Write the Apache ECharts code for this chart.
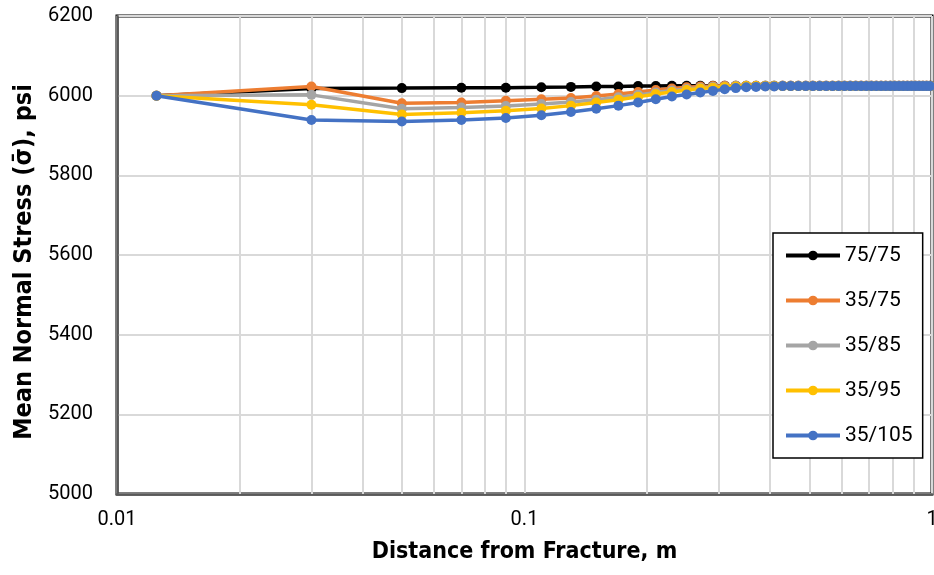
<!DOCTYPE html>
<html>
<head>
<meta charset="utf-8">
<title>Mean Normal Stress vs Distance from Fracture</title>
<script src="https://cdn.jsdelivr.net/npm/echarts@6/dist/echarts.min.js"></script>
<style>
  html, body { margin: 0; padding: 0; background: #ffffff; }
  #chart { width: 934px; height: 575px; }
</style>
</head>
<body>
<div id="chart"></div>
<script>
// Distance from the fracture face, m
const distance = [
  0.0125, 0.03, 0.05, 0.07, 0.09, 0.11, 0.13, 0.15, 0.17, 0.19,
  0.21, 0.23, 0.25, 0.27, 0.29, 0.31, 0.33, 0.35, 0.37, 0.39,
  0.41, 0.43, 0.45, 0.47, 0.49, 0.51, 0.53, 0.55, 0.57, 0.59,
  0.61, 0.63, 0.65, 0.67, 0.69, 0.71, 0.73, 0.75, 0.77, 0.79,
  0.81, 0.83, 0.85, 0.87, 0.89, 0.91, 0.93, 0.95, 0.97, 0.99
];

// Mean normal stress, psi, for each case
const stress75_75 = [
  6000, 6018, 6019, 6020, 6020, 6021, 6022, 6023, 6023, 6024,
  6024, 6025, 6025, 6025, 6025, 6025, 6025, 6025, 6025, 6025,
  6025, 6025, 6025, 6025, 6025, 6025, 6025, 6025, 6025, 6025,
  6025, 6025, 6025, 6025, 6025, 6025, 6025, 6025, 6025, 6025,
  6025, 6025, 6025, 6025, 6025, 6025, 6025, 6025, 6025, 6025
];
const stress35_75 = [
  6000, 6023, 5981, 5983, 5987, 5991, 5994, 5999, 6004, 6009,
  6014, 6018, 6021, 6023, 6024, 6025, 6025, 6025, 6025, 6025,
  6025, 6025, 6025, 6025, 6025, 6025, 6025, 6025, 6025, 6025,
  6025, 6025, 6025, 6025, 6025, 6025, 6025, 6025, 6025, 6025,
  6025, 6025, 6025, 6025, 6025, 6025, 6025, 6025, 6025, 6025
];
const stress35_85 = [
  6000, 6002, 5967, 5970, 5974, 5979, 5984, 5990, 5996, 6002,
  6008, 6013, 6017, 6020, 6022, 6023, 6024, 6024, 6024, 6024,
  6024, 6024, 6024, 6024, 6024, 6024, 6024, 6024, 6024, 6024,
  6024, 6024, 6024, 6024, 6024, 6024, 6024, 6024, 6024, 6024,
  6024, 6024, 6024, 6024, 6024, 6024, 6024, 6024, 6024, 6024
];
const stress35_95 = [
  6000, 5977, 5953, 5957, 5962, 5968, 5975, 5983, 5990, 5997,
  6004, 6009, 6014, 6018, 6020, 6022, 6023, 6024, 6024, 6024,
  6024, 6024, 6024, 6024, 6024, 6024, 6024, 6024, 6024, 6024,
  6024, 6024, 6024, 6024, 6024, 6024, 6024, 6024, 6024, 6024,
  6024, 6024, 6024, 6024, 6024, 6024, 6024, 6024, 6024, 6024
];
const stress35_105 = [
  6000, 5939, 5935, 5939, 5944, 5951, 5959, 5967, 5975, 5983,
  5991, 5998, 6003, 6008, 6012, 6016, 6019, 6021, 6022, 6023,
  6023, 6024, 6024, 6024, 6024, 6024, 6024, 6024, 6024, 6024,
  6024, 6024, 6024, 6024, 6024, 6024, 6024, 6024, 6024, 6024,
  6024, 6024, 6024, 6024, 6024, 6024, 6024, 6024, 6024, 6024
];

const caseNames = ['75/75', '35/75', '35/85', '35/95', '35/105'];
const caseColors = ['#000000', '#ED7D31', '#A5A5A5', '#FFC000', '#4472C4'];
const caseValues = [stress75_75, stress35_75, stress35_85, stress35_95, stress35_105];

// Minor log-scale grid lines between the decades
const minorGridX = [0.02, 0.03, 0.04, 0.05, 0.06, 0.07, 0.08, 0.09,
                    0.2, 0.3, 0.4, 0.5, 0.6, 0.7, 0.8, 0.9];

const yTicks = { min: 5000, max: 6200, step: 200 };

const labelFont = 'Roboto, "Liberation Sans", sans-serif';
const titleFont = '"Liberation Sans Narrow", "DejaVu Sans Condensed", Roboto, sans-serif';
const gridColor = '#d9d9d9';

const chart = echarts.init(document.getElementById('chart'), null, { renderer: 'canvas' });

const lineSeries = caseNames.map((name, i) => ({
  name: name,
  type: 'line',
  data: distance.map((d, j) => [d, caseValues[i][j]]),
  symbol: 'circle',
  symbolSize: 10,
  showSymbol: true,
  lineStyle: { color: caseColors[i], width: 3.5 },
  itemStyle: { color: caseColors[i] },
  z: 3 + i,
  animation: false,
  clip: true
}));

const gridSeries = {
  name: 'minor-grid',
  type: 'line',
  data: [],
  silent: true,
  animation: false,
  markLine: {
    silent: true,
    symbol: 'none',
    z: 1,
    animation: false,
    label: { show: false },
    lineStyle: { color: gridColor, width: 2, type: 'solid' },
    data: minorGridX.map(v => ({ xAxis: v }))
  }
};

chart.setOption({
  backgroundColor: '#ffffff',
  animation: false,
  grid: {
    left: 117, right: 2, top: 16, bottom: 81,
    containLabel: false,
    outerBoundsMode: 'none',
    show: true,
    borderColor: '#000000',
    borderWidth: 3,
    backgroundColor: 'transparent'
  },
  legend: {
    data: caseNames,
    orient: 'vertical',
    left: 773,
    top: 233,
    padding: [12, 10, 12, 11],
    itemGap: 24,
    itemWidth: 54,
    itemHeight: 12,
    backgroundColor: '#ffffff',
    borderColor: '#000000',
    borderWidth: 1.5,
    lineStyle: { width: 4 },
    textStyle: { fontFamily: labelFont, fontSize: 21, color: '#000000' }
  },
  xAxis: {
    type: 'log',
    logBase: 10,
    min: 0.01,
    max: 1,
    name: 'Distance from Fracture, m',
    nameLocation: 'middle',
    nameGap: 47,
    nameTextStyle: { fontFamily: titleFont, fontSize: 23, fontWeight: 'bold', color: '#000000' },
    axisLine: { show: true, onZero: false, lineStyle: { color: '#595959', width: 2.5 } },
    axisTick: { show: false },
    axisLabel: {
      fontFamily: labelFont, fontSize: 20, color: '#000000', margin: 16,
      formatter: v => String(+v.toPrecision(3))
    },
    splitLine: { show: true, lineStyle: { color: gridColor, width: 2 } },
    minorTick: { show: false },
    minorSplitLine: { show: false }
  },
  yAxis: {
    type: 'value',
    min: yTicks.min,
    max: yTicks.max,
    interval: yTicks.step,
    name: 'Mean Normal Stress (σ\u0304), psi',
    nameLocation: 'middle',
    nameGap: 77,
    nameRotate: 90,
    nameTextStyle: {
      fontFamily: titleFont, fontSize: 25, fontWeight: 'bold', color: '#000000',
      padding: [0, 14, 0, 0]
    },
    axisLine: { show: true, lineStyle: { color: '#595959', width: 2.5 } },
    axisTick: { show: false },
    axisLabel: {
      fontFamily: labelFont, fontSize: 20, color: '#000000', margin: 24,
      formatter: v => String(v)
    },
    splitLine: { show: true, lineStyle: { color: gridColor, width: 2 } }
  },
  series: [gridSeries].concat(lineSeries)
});
</script>
</body>
</html>
